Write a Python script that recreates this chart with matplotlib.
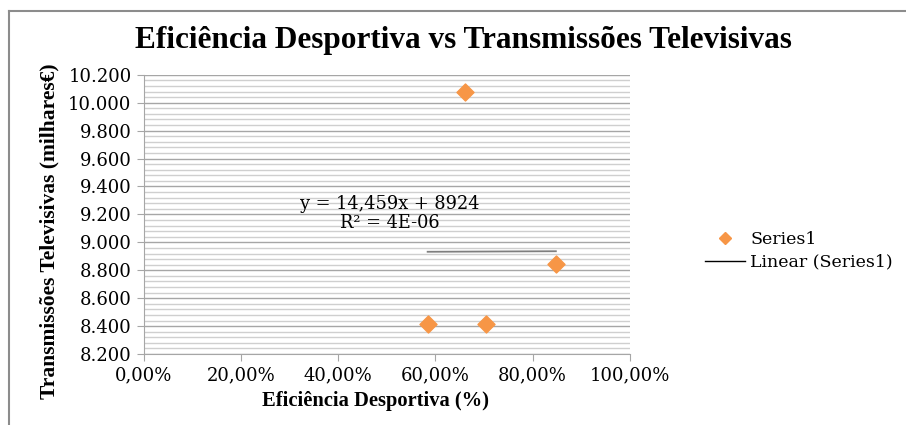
import numpy as np
import matplotlib
matplotlib.use('Agg')
import matplotlib.pyplot as plt
from matplotlib.ticker import FuncFormatter, MultipleLocator
from matplotlib.lines import Line2D

plt.rcParams['font.family'] = ['DejaVu Serif']
BOLD_FONT = ['Liberation Serif', 'DejaVu Serif']

# eficiência desportiva (fração) e receitas de transmissões (milhares €)
eficiencia = [0.66, 0.848, 0.584, 0.704]
transmissoes = [10075, 8845, 8412, 8412]

# linha de tendência indicada no gráfico
slope = 14.459
intercept = 8924
eq_text = 'y = 14,459x + 8924'
r2_text = 'R² = 4E-06'

ORANGE = '#F79646'

fig = plt.figure(figsize=(9.06, 4.25), dpi=100)
ax = fig.add_axes([0.159, 0.167, 0.536, 0.657])

ax.scatter(eficiencia, transmissoes, marker='D', s=75, c=ORANGE, zorder=3)

xs = np.array([min(eficiencia), max(eficiencia)])
ax.plot(xs, slope * xs + intercept, color='#7f7f7f', lw=1.3, zorder=2)

ax.set_xlim(0, 1)
ax.set_ylim(8200, 10200)
ax.xaxis.set_major_locator(MultipleLocator(0.2))
ax.yaxis.set_major_locator(MultipleLocator(200))
ax.yaxis.set_minor_locator(MultipleLocator(40))
ax.xaxis.set_major_formatter(FuncFormatter(lambda v, p: f'{v * 100:.2f}%'.replace('.', ',')))
ax.yaxis.set_major_formatter(FuncFormatter(lambda v, p: f'{v:,.0f}'.replace(',', '.')))

ax.grid(axis='y', which='major', color='#a6a6a6', lw=1.0)
ax.grid(axis='y', which='minor', color='#cfcfcf', lw=1.0)
ax.set_axisbelow(True)
for side in ['top', 'right']:
    ax.spines[side].set_visible(False)
for side in ['left', 'bottom']:
    ax.spines[side].set_color('#a6a6a6')
ax.tick_params(axis='both', which='major', length=5, color='#a6a6a6', labelsize=13, pad=4)
ax.tick_params(axis='y', which='minor', length=0)

ax.set_xlabel('Eficiência Desportiva (%)', fontsize=14.8, fontweight='bold',
              family=BOLD_FONT, labelpad=5)
ax.set_ylabel('Transmissões Televisivas (milhares€)', fontsize=15.5, fontweight='bold',
              family=BOLD_FONT, labelpad=6)
ax.xaxis.label.set_x(0.477)
ax.yaxis.label.set_y(0.44)

ax.text(0.506, 9275, eq_text, ha='center', va='center', fontsize=12.8)
ax.text(0.506, 9139, r2_text, ha='center', va='center', fontsize=12.8)

fig.text(0.512, 0.905, 'Eficiência Desportiva vs Transmissões Televisivas',
         ha='center', va='center', fontsize=22.5, fontweight='bold', family=BOLD_FONT)

handles = [
    Line2D([], [], marker='D', ls='none', color=ORANGE, markersize=6),
    Line2D([], [], color='black', lw=1),
]
fig.legend(handles, ['Series1', 'Linear (Series1)'], loc='center left',
           bbox_to_anchor=(0.761, 0.41), frameon=False, fontsize=12.5,
           handlelength=2.3, labelspacing=0.35, handletextpad=0.3)

# moldura do gráfico
fig.add_artist(Line2D([0.01, 1.0], [0.974, 0.974], color='#8c8c8c', lw=1.5,
                      transform=fig.transFigure))
fig.add_artist(Line2D([0.01, 0.01], [0.0, 0.974], color='#8c8c8c', lw=1.5,
                      transform=fig.transFigure))

fig.savefig('out.png', dpi=100)
